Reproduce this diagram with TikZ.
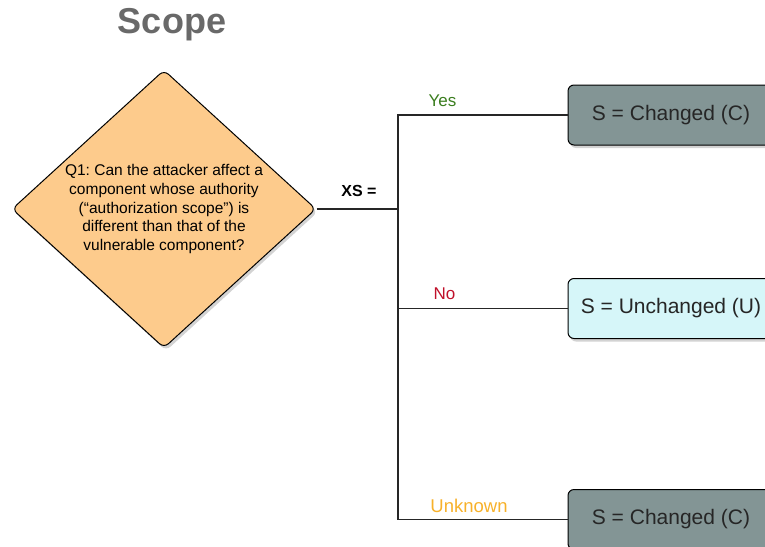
\documentclass[tikz,border=0pt]{standalone}
\usepackage{fontspec}
\setmainfont{Liberation Sans}
\usepackage{tikz}
\usetikzlibrary{positioning,shapes.geometric,shadows}
\frenchspacing
\definecolor{qOrange}{HTML}{FDCB8C}
\definecolor{sGray}{HTML}{839595}
\definecolor{sCyan}{HTML}{D6F6F9}
\definecolor{lGreen}{HTML}{3A7D1E}
\definecolor{lRed}{HTML}{C0102A}
\definecolor{lYellow}{HTML}{F7B12A}
\definecolor{tGray}{HTML}{696969}
\tikzset{q/.style={diamond, draw, line width=1pt, fill=qOrange, aspect=1.09,
  inner sep=0pt, minimum width=304pt, minimum height=278pt,
  rounded corners=6pt, align=center,
  drop shadow={opacity=0.35, shadow xshift=2pt, shadow yshift=-3pt},
  font=\fontsize{15.5}{18.7}\selectfont}}
\tikzset{s/.style={rectangle, draw, line width=1pt, rounded corners=6pt,
  minimum width=206pt, minimum height=60pt, text=black!85,
  drop shadow={opacity=0.35, shadow xshift=2pt, shadow yshift=-3pt},
  font=\fontsize{21}{24}\selectfont}}
\tikzset{w/.style={draw, line width=1.2pt, black!85}}
\tikzset{lab/.style={font=\fontsize{17}{20}\selectfont}}

\begin{document}
\begin{tikzpicture}[x=1pt, y=-1pt]
            \clip (0,0) rectangle (765,546);
            %%
            \node (scope) at (172,25) [font=\bfseries\fontsize{36}{40}\selectfont,
                text=tGray] {Scope};
            %%
            \node (q1) at (164,209) [q] {Q1: Can the attacker affect a\\
                component whose authority\\(“authorization scope”) is\\
                different than that of the\\vulnerable component?};
            \node (xs) at (359,191) [font=\bfseries\fontsize{16}{18}\selectfont] {XS =};
            \coordinate (split) at (398,209);
            %%
            \node (c1) at (671,115) [s, fill=sGray] {S = Changed (C)};
            \node (u) at (671,308.5) [s, fill=sCyan] {S = Unchanged (U)};
            \node (c2) at (671,519.5) [s, fill=sGray] {S = Changed (C)};
            %%
            \path[w] (q1.east) to (split);
            \path[w] (c1.west) -| (split) |- (c2.west);
            \path[w] (split |- u.west) to (u.west);
            %%
            \node (yes) at (442.5,100.5) [lab, text=lGreen] {Yes};
            \node (no) at (444.5,293.5) [lab, text=lRed] {No};
            \node (unk) at (469,506) [lab, text=lYellow,
                font=\fontsize{18.5}{20}\selectfont] {Unknown};
          \end{tikzpicture}
\end{document}
